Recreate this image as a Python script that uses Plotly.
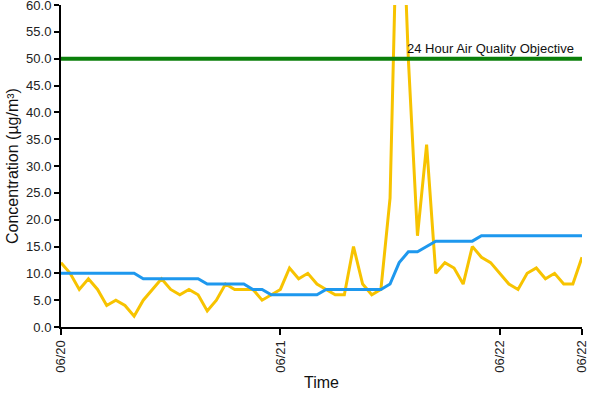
import plotly.graph_objects as go
import pandas as pd

# hourly timestamps, 06/20 00:00 to 06/22 09:00
times = pd.date_range("2020-06-20 00:00", periods=58, freq="h")

hourly = [12, 10, 7, 9, 7, 4, 5, 4, 2, 5, 7, 9, 7, 6, 7, 6, 3, 5, 8, 7,
          7, 7, 5, 6, 7, 11, 9, 10, 8, 7, 6, 6, 15, 8, 6, 7, 24, 95, 50, 17,
          34, 10, 12, 11, 8, 15, 13, 12, 10, 8, 7, 10, 11, 9, 10, 8, 8, 13]

rolling24 = [10, 10, 10, 10, 10, 10, 10, 10, 10, 9, 9, 9, 9, 9, 9, 9, 8, 8, 8, 8,
             8, 7, 7, 6, 6, 6, 6, 6, 6, 7, 7, 7, 7, 7, 7, 7, 8, 12, 14, 14,
             15, 16, 16, 16, 16, 16, 17, 17, 17, 17, 17, 17, 17, 17, 17, 17, 17, 17]

objective = [50] * len(times)
objective_label = "24 Hour Air Quality Objective"

tick_vals = [times[0], times[24], times[48], times[-1]]
tick_text = ["06/20", "06/21", "06/22", "06/22"]
y_ticks = [0, 5, 10, 15, 20, 25, 30, 35, 40, 45, 50, 55, 60]

FONT = "Liberation Sans, Arial"

fig = go.Figure()
fig.add_trace(go.Scatter(x=times, y=hourly, mode="lines",
                         line=dict(color="#F7C300", width=3), showlegend=False))
fig.add_trace(go.Scatter(x=times, y=rolling24, mode="lines",
                         line=dict(color="#1E98EE", width=3), showlegend=False))
fig.add_trace(go.Scatter(x=times, y=objective, mode="lines",
                         line=dict(color="#0A7F0A", width=4), showlegend=False))

fig.add_annotation(x=times[-1], y=50, xref="x", yref="y", text=objective_label,
                   showarrow=False, xanchor="right", yanchor="bottom",
                   xshift=-6, yshift=1,
                   font=dict(family=FONT, size=13, color="#111"))

# axis titles
fig.add_annotation(x=0.5, y=0, xref="paper", yref="y domain", text="Time",
                   showarrow=False, xanchor="center", yanchor="middle",
                   yshift=-55,
                   font=dict(family=FONT, size=16, color="#111"))
fig.add_annotation(x=0, y=0.5, xref="x domain", yref="paper",
                   text="Concentration (µg/m³)", textangle=-90,
                   showarrow=False, xanchor="center", yanchor="middle",
                   xshift=-49,
                   font=dict(family=FONT, size=16, color="#111"))

fig.update_layout(
    width=600, height=400,
    margin=dict(l=61, r=18, t=5, b=73, autoexpand=False),
    paper_bgcolor="white", plot_bgcolor="white",
    font=dict(family=FONT, color="#222"),
    showlegend=False,
)
fig.update_xaxes(
    range=[times[0], times[-1]], tickvals=tick_vals, ticktext=tick_text,
    tickangle=-90, showgrid=False, zeroline=False, automargin=False,
    showline=True, linecolor="black", linewidth=2,
    ticks="outside", ticklen=6, tickcolor="black", tickwidth=2,
    tickfont=dict(size=13, color="#222"), ticklabeloverflow="allow",
)
fig.update_yaxes(
    range=[0, 60], tickvals=y_ticks, ticktext=[f"{v:.1f}" for v in y_ticks],
    showgrid=False, zeroline=False, automargin=False,
    showline=True, linecolor="black", linewidth=2,
    ticks="outside", ticklen=5, tickcolor="black", tickwidth=2,
    tickfont=dict(size=13, color="#222"), ticklabeloverflow="allow",
)

fig.write_html("out.html", config={"displayModeBar": False},
               post_script="document.body.style.margin='0px';document.body.style.padding='0px';")
